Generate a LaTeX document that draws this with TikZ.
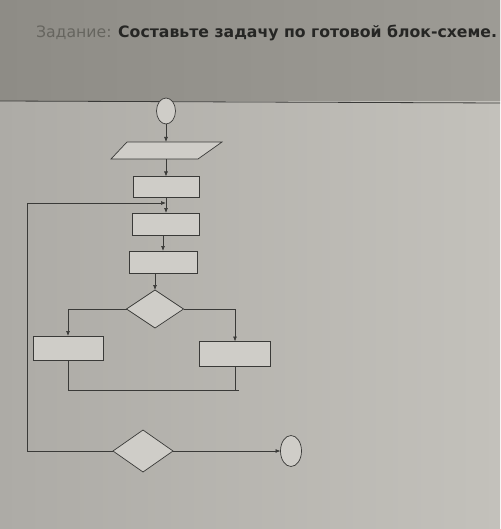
\documentclass[tikz,border=0pt]{standalone}
\usepackage{fontspec}
\setmainfont{DejaVu Sans}
\usetikzlibrary{shapes.geometric,arrows.meta}
\definecolor{bgtopl}{HTML}{8E8C86}
\definecolor{bgtopr}{HTML}{9D9B95}
\definecolor{bgbotl}{HTML}{ADABA6}
\definecolor{bgbotr}{HTML}{C3C1BB}
\definecolor{boxfill}{HTML}{CFCDC8}
\definecolor{ink}{HTML}{3A3A38}
\definecolor{titlegray}{HTML}{66655F}
\definecolor{titledark}{HTML}{262624}
\begin{document}
\begin{tikzpicture}[x=1pt,y=-1pt,
  every node/.style={inner sep=0pt,outer sep=0pt},
  blk/.style={draw=ink,line width=0.7pt,fill=boxfill,rectangle},
  term/.style={draw=ink,line width=0.7pt,fill=boxfill,ellipse},
  iobox/.style={draw=ink,line width=0.7pt,fill=boxfill},
  cond/.style={draw=ink,line width=0.7pt,fill=boxfill,diamond,aspect=1.5},
  conn/.style={draw=ink,line width=0.7pt},
  arr/.style={conn,-{Latex[length=5pt,width=4pt]}}]
\useasboundingbox (0,0) rectangle (500,529);
\shade[left color=bgbotl,right color=bgbotr] (0,0) rectangle (500,529);
\shade[left color=bgtopl,right color=bgtopr] (0,0) rectangle (500,101);
\draw[ink,line width=0.8pt] (0,101) -- (500,103);
\node[anchor=base west] (title) at (36,38) {\resizebox{461pt}{!}{\textcolor{titlegray}{Задание:} \textcolor{titledark}{\textbf{Составьте задачу по готовой блок-схеме.}}}};
% shapes
\node[term,minimum width=19pt,minimum height=26pt] (start) at (166,111) {};
\draw[iobox] (127,142) -- (222,142) -- (198,159) -- (111,159) -- cycle;
\coordinate (intop) at (166,142);
\coordinate (inbot) at (166,159);
\node[blk,minimum width=66pt,minimum height=21pt] (r1) at (166,187) {};
\node[blk,minimum width=67pt,minimum height=22pt] (r2) at (166,224) {};
\node[blk,minimum width=68pt,minimum height=22pt] (r3) at (163,262) {};
\node[cond,minimum width=57pt,minimum height=38pt] (d1) at (155,309) {};
\node[blk,minimum width=70pt,minimum height=24pt] (rl) at (68,348) {};
\node[blk,minimum width=71pt,minimum height=25pt] (rr) at (235,354) {};
\node[cond,minimum width=60pt,minimum height=42pt] (d2) at (143,451) {};
\node[term,minimum width=21pt,minimum height=31pt] (stop) at (291,451) {};
% coordinates
\coordinate (r3out) at (155,273);
\coordinate (loopin) at (166,203);
\coordinate (lt) at (27,203);
\coordinate (lb) at (27,451);
\coordinate (bl) at (68,309);
\coordinate (br) at (235,309);
\coordinate (ml) at (68,390);
\coordinate (mr) at (235,390);
\coordinate (mend) at (239,390);
% connectors
\draw[arr] (start.south) -- (intop);
\draw[arr] (inbot) -- (r1.north);
\draw[arr] (r1.south) -- (r2.north);
\draw[arr] (r2.south -| r3.north) -- (r3.north);
\draw[arr] (r3out) -- (d1.north);
\draw[conn] (d1.west) -- (bl);
\draw[arr] (bl) -- (rl.north);
\draw[conn] (d1.east) -- (br);
\draw[arr] (br) -- (rr.north);
\draw[conn] (rl.south) -- (ml) -- (mend);
\draw[conn] (rr.south) -- (mr);
\draw[conn] (d2.west) -- (lb) -- (lt);
\draw[arr] (lt) -- (loopin);
\draw[arr] (d2.east) -- (stop.west);
\end{tikzpicture}
\end{document}
